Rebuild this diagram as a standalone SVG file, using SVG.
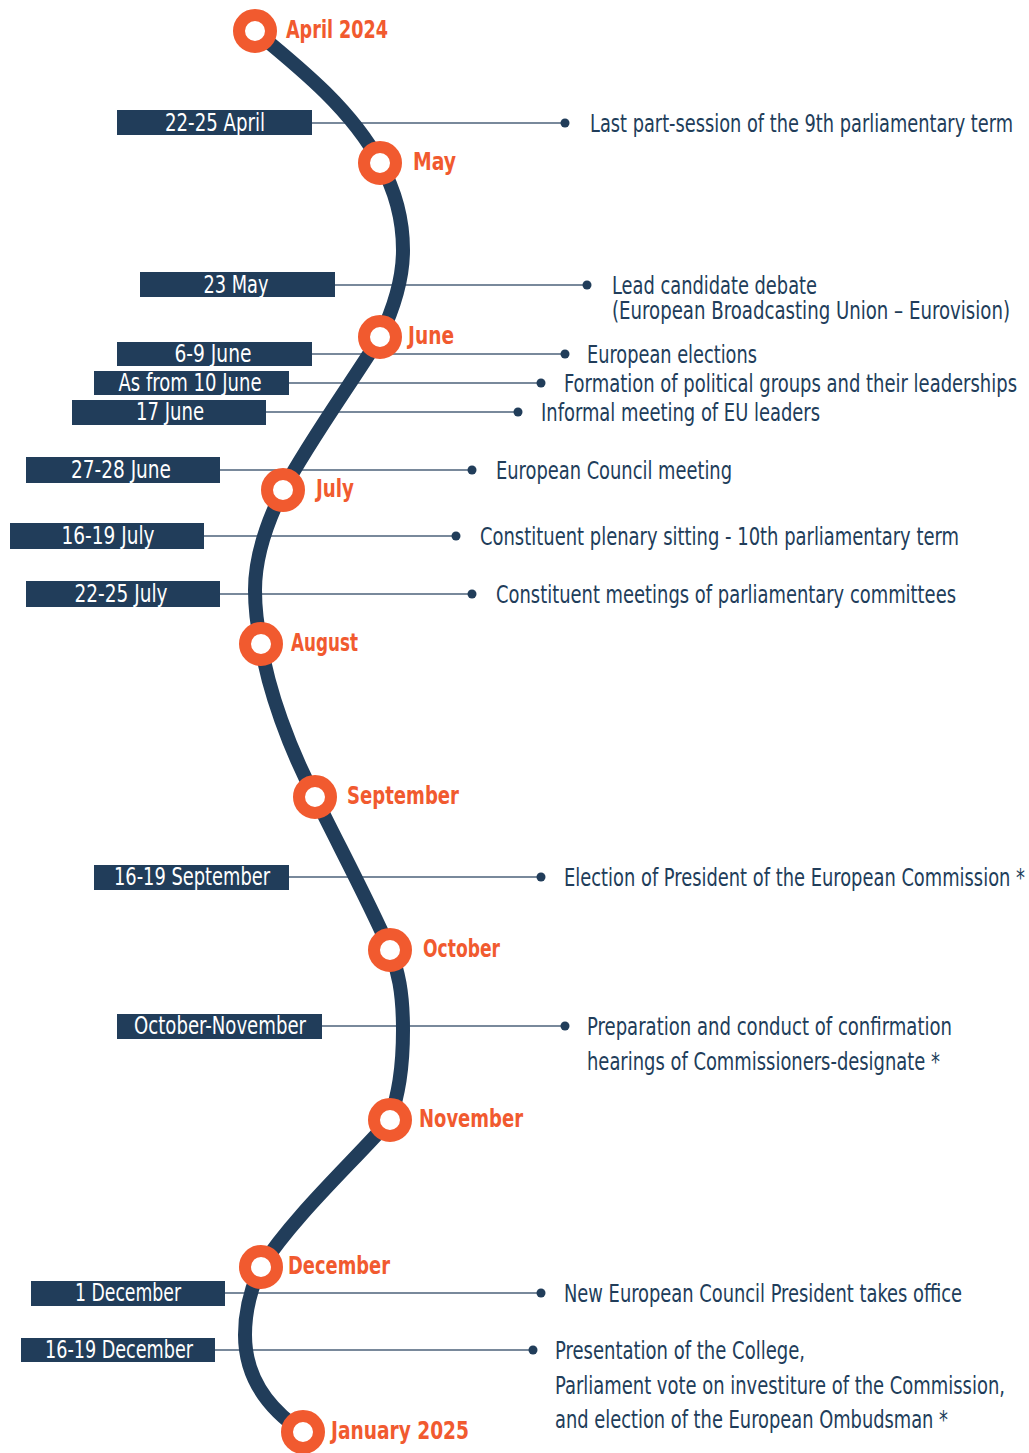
<svg xmlns="http://www.w3.org/2000/svg" width="1029" height="1453" viewBox="0 0 1029 1453">
<style>
.bg{fill:#ffffff}
.curve{fill:none;stroke:#213d5a;stroke-width:14;stroke-linecap:butt}
.ring{fill:#ffffff;stroke:#f15a2f;stroke-width:12}
.month{font-family:"Liberation Sans Narrow","DejaVu Sans Condensed","Liberation Sans",sans-serif;font-stretch:condensed;font-weight:bold;font-size:25px;fill:#f15a2f}
.box{fill:#213d5a}
.date{font-family:"Liberation Sans Narrow","DejaVu Sans Condensed","Liberation Sans",sans-serif;font-stretch:condensed;font-size:24px;fill:#ffffff;text-anchor:middle}
.desc{font-family:"Liberation Sans Narrow","DejaVu Sans Condensed","Liberation Sans",sans-serif;font-stretch:condensed;font-size:25px;fill:#213d5a}
.conn{stroke:#4d627a;stroke-width:1.6;fill:none}
.dot{fill:#213d5a}
</style>
<rect class="bg" x="0" y="0" width="1029" height="1453"/>

<g id="connectors">
<line class="conn" x1="312" y1="123" x2="565" y2="123"/><circle class="dot" cx="565" cy="123" r="4.5"/>
<line class="conn" x1="335" y1="285" x2="587" y2="285"/><circle class="dot" cx="587" cy="285" r="4.5"/>
<line class="conn" x1="312" y1="354" x2="565" y2="354"/><circle class="dot" cx="565" cy="354" r="4.5"/>
<line class="conn" x1="289" y1="383" x2="541" y2="383"/><circle class="dot" cx="541" cy="383" r="4.5"/>
<line class="conn" x1="266" y1="412" x2="518" y2="412"/><circle class="dot" cx="518" cy="412" r="4.5"/>
<line class="conn" x1="220" y1="470" x2="472" y2="470"/><circle class="dot" cx="472" cy="470" r="4.5"/>
<line class="conn" x1="204" y1="536" x2="456" y2="536"/><circle class="dot" cx="456" cy="536" r="4.5"/>
<line class="conn" x1="220" y1="594" x2="472" y2="594"/><circle class="dot" cx="472" cy="594" r="4.5"/>
<line class="conn" x1="289" y1="877" x2="541" y2="877"/><circle class="dot" cx="541" cy="877" r="4.5"/>
<line class="conn" x1="322" y1="1026" x2="565" y2="1026"/><circle class="dot" cx="565" cy="1026" r="4.5"/>
<line class="conn" x1="225" y1="1293" x2="541" y2="1293"/><circle class="dot" cx="541" cy="1293" r="4.5"/>
<line class="conn" x1="215" y1="1350" x2="533" y2="1350"/><circle class="dot" cx="533" cy="1350" r="4.5"/>
</g>

<g id="timeline">
<path class="curve" d="M255,31 C300,68 352,110 380,163 C395,190 403,220 403,250 C403,280 393,310 380,337 C350,385 310,440 283,490 C268,520 255,555 255,590 C255,615 258,630 261,644 C268,690 290,750 315,797 C340,848 368,900 390,950 C398,970 403,992 403,1030 C403,1070 398,1095 390,1120 C350,1165 295,1215 261,1267 C250,1290 245,1310 245,1335 C245,1380 270,1410 303,1432"/>
</g>

<g id="m-apr"><circle class="ring" cx="255" cy="31" r="16"/><text class="month" x="286" y="38" textLength="102" lengthAdjust="spacingAndGlyphs">April 2024</text></g>
<g id="m-may"><circle class="ring" cx="380" cy="163" r="16"/><text class="month" x="413" y="170" textLength="43" lengthAdjust="spacingAndGlyphs">May</text></g>
<g id="m-jun"><circle class="ring" cx="380" cy="337" r="16"/><text class="month" x="408" y="344" textLength="46" lengthAdjust="spacingAndGlyphs">June</text></g>
<g id="m-jul"><circle class="ring" cx="283" cy="490" r="16"/><text class="month" x="316" y="497" textLength="38" lengthAdjust="spacingAndGlyphs">July</text></g>
<g id="m-aug"><circle class="ring" cx="261" cy="644" r="16"/><text class="month" x="291" y="651" textLength="67" lengthAdjust="spacingAndGlyphs">August</text></g>
<g id="m-sep"><circle class="ring" cx="315" cy="797" r="16"/><text class="month" x="347" y="804" textLength="112" lengthAdjust="spacingAndGlyphs">September</text></g>
<g id="m-oct"><circle class="ring" cx="390" cy="950" r="16"/><text class="month" x="423" y="957" textLength="77" lengthAdjust="spacingAndGlyphs">October</text></g>
<g id="m-nov"><circle class="ring" cx="390" cy="1120" r="16"/><text class="month" x="419" y="1127" textLength="104" lengthAdjust="spacingAndGlyphs">November</text></g>
<g id="m-dec"><circle class="ring" cx="261" cy="1267" r="16"/><text class="month" x="288" y="1274" textLength="102" lengthAdjust="spacingAndGlyphs">December</text></g>
<g id="m-jan"><circle class="ring" cx="303" cy="1432" r="16"/><text class="month" x="331" y="1439" textLength="138" lengthAdjust="spacingAndGlyphs">January 2025</text></g>

<g id="e1"><rect class="box" x="117" y="110" width="195" height="25"/><text class="date" x="215" y="131" textLength="100" lengthAdjust="spacingAndGlyphs">22-25 April</text>
<text class="desc" x="590" y="132" textLength="423" lengthAdjust="spacingAndGlyphs">Last part-session of the 9th parliamentary term</text></g>
<g id="e2"><rect class="box" x="140" y="272" width="195" height="25"/><text class="date" x="236" y="293" textLength="65" lengthAdjust="spacingAndGlyphs">23 May</text>
<text class="desc" x="612" y="294" textLength="205" lengthAdjust="spacingAndGlyphs">Lead candidate debate</text>
<text class="desc" x="612" y="319" textLength="398" lengthAdjust="spacingAndGlyphs">(European Broadcasting Union – Eurovision)</text></g>
<g id="e3"><rect class="box" x="117" y="342" width="195" height="24"/><text class="date" x="213" y="362" textLength="77" lengthAdjust="spacingAndGlyphs">6-9 June</text>
<text class="desc" x="587" y="363" textLength="170" lengthAdjust="spacingAndGlyphs">European elections</text></g>
<g id="e4"><rect class="box" x="94" y="371" width="195" height="24"/><text class="date" x="190" y="391" textLength="143" lengthAdjust="spacingAndGlyphs">As from 10 June</text>
<text class="desc" x="564" y="392" textLength="453" lengthAdjust="spacingAndGlyphs">Formation of political groups and their leaderships</text></g>
<g id="e5"><rect class="box" x="72" y="400" width="194" height="25"/><text class="date" x="170" y="420" textLength="68" lengthAdjust="spacingAndGlyphs">17 June</text>
<text class="desc" x="541" y="421" textLength="279" lengthAdjust="spacingAndGlyphs">Informal meeting of EU leaders</text></g>
<g id="e6"><rect class="box" x="26" y="457" width="194" height="26"/><text class="date" x="121" y="478" textLength="100" lengthAdjust="spacingAndGlyphs">27-28 June</text>
<text class="desc" x="496" y="479" textLength="236" lengthAdjust="spacingAndGlyphs">European Council meeting</text></g>
<g id="e7"><rect class="box" x="10" y="523" width="194" height="26"/><text class="date" x="108" y="544" textLength="93" lengthAdjust="spacingAndGlyphs">16-19 July</text>
<text class="desc" x="480" y="545" textLength="479" lengthAdjust="spacingAndGlyphs">Constituent plenary sitting - 10th parliamentary term</text></g>
<g id="e8"><rect class="box" x="26" y="581" width="194" height="26"/><text class="date" x="121" y="602" textLength="93" lengthAdjust="spacingAndGlyphs">22-25 July</text>
<text class="desc" x="496" y="603" textLength="460" lengthAdjust="spacingAndGlyphs">Constituent meetings of parliamentary committees</text></g>
<g id="e9"><rect class="box" x="94" y="865" width="195" height="25"/><text class="date" x="192" y="885" textLength="156" lengthAdjust="spacingAndGlyphs">16-19 September</text>
<text class="desc" x="564" y="886" textLength="461" lengthAdjust="spacingAndGlyphs">Election of President of the European Commission *</text></g>
<g id="e10"><rect class="box" x="117" y="1014" width="205" height="25"/><text class="date" x="220" y="1034" textLength="172" lengthAdjust="spacingAndGlyphs">October-November</text>
<text class="desc" x="587" y="1035" textLength="365" lengthAdjust="spacingAndGlyphs">Preparation and conduct of confirmation</text>
<text class="desc" x="587" y="1070" textLength="353" lengthAdjust="spacingAndGlyphs">hearings of Commissioners-designate *</text></g>
<g id="e11"><rect class="box" x="31" y="1281" width="194" height="25"/><text class="date" x="128" y="1301" textLength="106" lengthAdjust="spacingAndGlyphs">1 December</text>
<text class="desc" x="564" y="1302" textLength="398" lengthAdjust="spacingAndGlyphs">New European Council President takes office</text></g>
<g id="e12"><rect class="box" x="21" y="1338" width="194" height="24"/><text class="date" x="119" y="1358" textLength="148" lengthAdjust="spacingAndGlyphs">16-19 December</text>
<text class="desc" x="555" y="1359" textLength="250" lengthAdjust="spacingAndGlyphs">Presentation of the College,</text>
<text class="desc" x="555" y="1394" textLength="450" lengthAdjust="spacingAndGlyphs">Parliament vote on investiture of the Commission,</text>
<text class="desc" x="555" y="1428" textLength="393" lengthAdjust="spacingAndGlyphs">and election of the European Ombudsman *</text></g>
</svg>
